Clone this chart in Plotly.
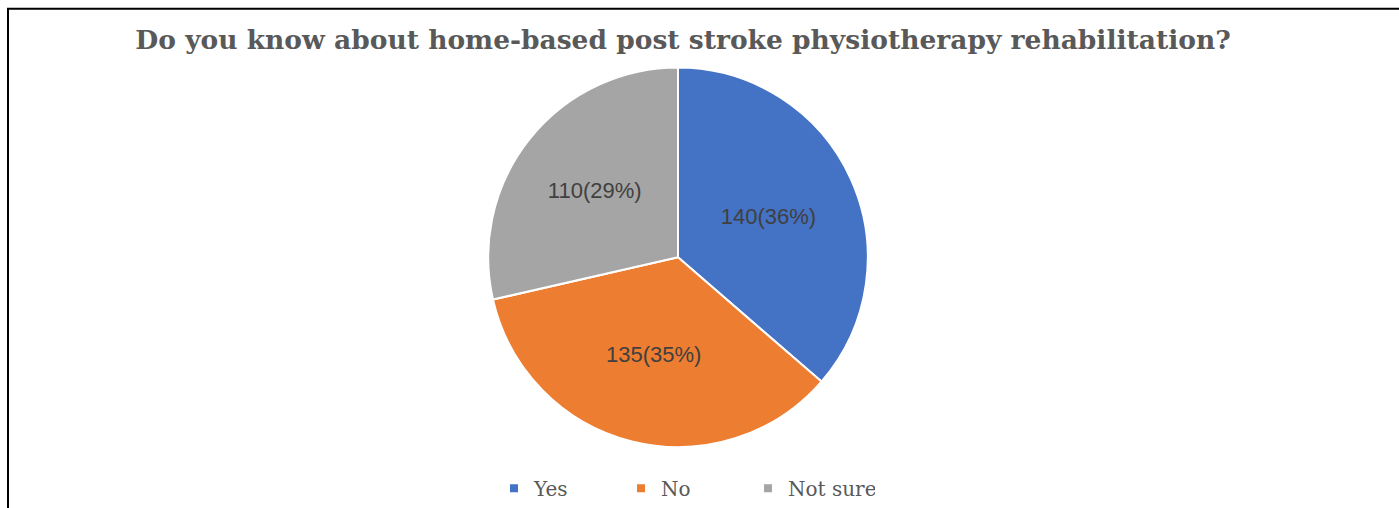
import plotly.graph_objects as go

categories = ["Yes", "No", "Not sure"]
counts = [140, 135, 110]
colors = ["#4472C4", "#ED7D31", "#A5A5A5"]
title_text = "Do you know about home-based post stroke physiotherapy rehabilitation?"

W, H = 1399, 508
cx, cy, r = 678, 263, 194

fig = go.Figure()
fig.add_trace(go.Pie(
    labels=categories, values=counts, sort=False, direction="clockwise", rotation=0,
    marker=dict(colors=colors, line=dict(color="white", width=2)),
    texttemplate="%{value}(%{percent:.0%})", textposition="inside",
    insidetextorientation="horizontal",
    textfont=dict(family="Liberation Sans", size=22, color="#404040"),
    showlegend=False, hoverinfo="label+value+percent",
    domain=dict(x=[(cx - r) / W, (cx + r) / W], y=[(H - cy - r) / H, (H - cy + r) / H]),
))
for name, col in zip(categories, colors):
    fig.add_trace(go.Scatter(x=[None], y=[None], mode="markers", name=name,
                             marker=dict(symbol="square", size=8, color=col)))

fig.update_layout(
    width=W, height=H, margin=dict(l=0, r=0, t=0, b=0),
    paper_bgcolor="white", plot_bgcolor="white",
    xaxis=dict(visible=False), yaxis=dict(visible=False),
    title=dict(text="<b>" + title_text + "</b>", x=683 / W, xanchor="center",
               y=(H - 40) / H, yanchor="middle",
               font=dict(family="DejaVu Serif", size=26.5, color="#595959")),
    legend=dict(orientation="h", x=494 / W, xanchor="left", y=(H - 499) / H, yanchor="middle",
                font=dict(family="DejaVu Serif", size=20, color="#595959"),
                itemwidth=30, entrywidth=82, bgcolor="rgba(0,0,0,0)"),
    shapes=[dict(type="rect", xref="paper", yref="paper", x0=8 / W, x1=1.05,
                 y0=-0.05, y1=(H - 9) / H, line=dict(color="black", width=2))],
)
fig.write_html("out.html", config={"displayModeBar": False},
               post_script="document.body.style.margin='0';document.body.style.overflow='hidden';")
